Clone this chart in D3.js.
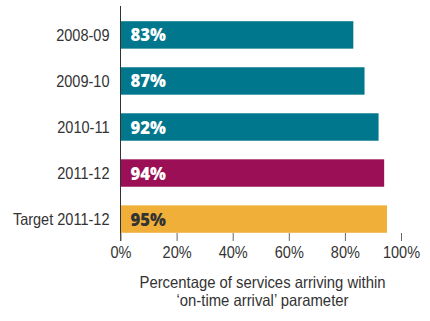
<!DOCTYPE html>
<html><head><meta charset="utf-8">
<script src="https://cdn.jsdelivr.net/npm/d3@7"></script>
<style>
html,body{margin:0;padding:0;background:#fff;}
svg{display:block;}
</style></head>
<body>
<div id="chart"></div>
<script>
const categories = ["2008-09","2009-10","2010-11","2011-12","Target 2011-12"];
const values = [83, 87, 92, 94, 95];
const barColors = ["#00778c","#00778c","#00778c","#9a0f56","#f0af38"];
const labelColors = ["#ffffff","#ffffff","#ffffff","#ffffff","#333333"];
const tickValues = [0,20,40,60,80,100];
const titleLines = ["Percentage of services arriving within","\u2018on-time arrival\u2019 parameter"];

const W = 430, H = 321;
const svg = d3.select("#chart").append("svg").attr("width",W).attr("height",H);
const font = "'Liberation Sans',Arial,sans-serif";

function condense(sel, f) {
  sel.each(function(){
    const w = this.getComputedTextLength();
    this.setAttribute("textLength", (w*f).toFixed(2));
    this.setAttribute("lengthAdjust","spacingAndGlyphs");
  });
}

const x = d3.scaleLinear().domain([0,100]).range([120.5, 401]);
const y = d3.scaleBand().domain(categories).range([12, 242]).paddingInner(0.404).paddingOuter(0.2);

// bars
svg.selectAll("rect.bar").data(categories).enter().append("rect")
  .attr("class","bar")
  .attr("x", x(0))
  .attr("y", d => y(d))
  .attr("width", (d,i) => x(values[i]) - x(0))
  .attr("height", y.bandwidth())
  .attr("fill", (d,i) => barColors[i]);

// bar labels
svg.selectAll("text.val").data(categories).enter().append("text")
  .attr("class","val")
  .attr("x", x(0) + 10)
  .attr("y", d => y(d) + y.bandwidth()/2 + 6.5)
  .attr("font-family", "'Open Sans','Noto Sans',sans-serif")
  .attr("font-weight", 800)
  .attr("font-size", 18)
  .attr("fill", (d,i) => labelColors[i])
  .text((d,i) => values[i] + "%")
  .call(condense, 0.93);

// category labels
svg.selectAll("text.cat").data(categories).enter().append("text")
  .attr("class","cat")
  .attr("x", 109.5)
  .attr("y", d => y(d) + y.bandwidth()/2 + 6)
  .attr("text-anchor","end")
  .attr("font-family", font)
  .attr("font-size", 16.5)
  .attr("fill","#333")
  .text(d => d)
  .call(condense, 0.88);

// vertical axis line
svg.append("line").attr("x1",120.5).attr("x2",120.5).attr("y1",6).attr("y2",241)
  .attr("stroke","#333").attr("stroke-width",1);

// x axis
const xAxis = svg.append("g").attr("transform","translate(0,233)")
  .call(d3.axisBottom(x).tickValues(tickValues).tickFormat(d => d + "%").tickSize(8).tickPadding(5));
xAxis.select(".domain").remove();
xAxis.selectAll(".tick line").attr("stroke","#666");
xAxis.selectAll(".tick text").attr("font-family",font).attr("font-size",16.5).attr("fill","#333")
  .call(condense, 0.88);

// title
svg.selectAll("text.title").data(titleLines).enter().append("text")
  .attr("class","title")
  .attr("x", 262.5)
  .attr("y", (d,i) => 287.5 + i*18.5)
  .attr("text-anchor","middle")
  .attr("font-family",font)
  .attr("font-size",16.5)
  .attr("fill","#333")
  .text(d => d)
  .call(condense, 0.9);
</script>
</body></html>
